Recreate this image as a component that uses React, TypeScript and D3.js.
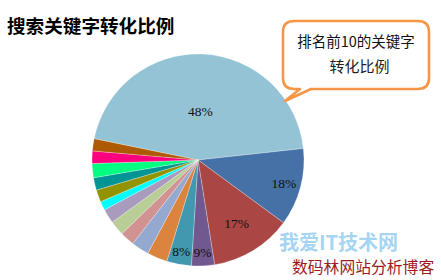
import React from "react";
import * as d3 from "d3";

// Slice values (read from the angular extent of each slice)
const values = [45.0, 11.8, 12.4, 3.5, 3.75, 3.1, 2.7, 2.2, 2.25, 2.2, 1.35, 1.85, 1.9, 2.15, 1.9, 1.85];
const labels = ["48%", "18%", "17%", "9%", "8%", "", "", "", "", "", "", "", "", "", "", ""];
const colors = [
  "#93C3D5", "#4571A7", "#AA4643", "#71588F", "#4198AF", "#DB843D", "#93A9CF", "#D19392",
  "#B9CD96", "#A99BBD", "#00FFFF", "#939300", "#009494", "#00FF80", "#FF007F", "#AE5A04",
];
const title = "搜索关键字转化比例";
const calloutLines = ["排名前10的关键字", "转化比例"];
const watermark1 = "我爱IT技术网";
const watermark2 = "数码林网站分析博客";

const W = 441;
const H = 280;
const CX = 198;
const CY = 160;
const R = 106;
const START = (-78.4 * Math.PI) / 180;
const LABEL_R = [0.46, 0.84, 0.7, 0.87, 0.88];

export default function App() {
  const pie = d3
    .pie<number>()
    .sort(null)
    .value((d) => d)
    .startAngle(START)
    .endAngle(START + 2 * Math.PI);
  const arcs = pie(values);
  const arc = d3.arc<d3.PieArcDatum<number>>().innerRadius(0).outerRadius(R);

  // callout box path
  const bx0 = 283, by0 = 21, bx1 = 429, by1 = 89, rr = 11;
  const tip = [285, 101];
  const callout = d3.path();
  callout.moveTo(bx0 + rr, by0);
  callout.lineTo(bx1 - rr, by0);
  callout.quadraticCurveTo(bx1, by0, bx1, by0 + rr);
  callout.lineTo(bx1, by1 - rr);
  callout.quadraticCurveTo(bx1, by1, bx1 - rr, by1);
  callout.lineTo(311, by1);
  callout.lineTo(tip[0], tip[1]);
  callout.lineTo(300, by1);
  callout.lineTo(bx0 + rr, by1);
  callout.quadraticCurveTo(bx0, by1, bx0, by1 - rr);
  callout.lineTo(bx0, by0 + rr);
  callout.quadraticCurveTo(bx0, by0, bx0 + rr, by0);
  callout.closePath();

  return (
    <div style={{ position: "fixed", left: 0, top: 0 }}>
      <svg width={W} height={H} style={{ display: "block", background: "#fff" }}>
        <text
          x={7}
          y={33}
          fontFamily="'Noto Sans CJK SC', sans-serif"
          fontWeight={700}
          fontSize={18.6}
          fill="#000"
        >
          {title}
        </text>

        <g transform={`translate(${CX},${CY})`}>
          {arcs.map((a, i) => (
            <path
              key={i}
              d={arc(a) || ""}
              fill={colors[i]}
              stroke="#ffffff"
              strokeOpacity={0.45}
              strokeWidth={0.6}
            />
          ))}
          {arcs.map((a, i) => {
            if (!labels[i]) return null;
            const mid = (a.startAngle + a.endAngle) / 2;
            const lr = R * (LABEL_R[i] ?? 0.85);
            const x = lr * Math.sin(mid);
            const y = -lr * Math.cos(mid);
            return (
              <text
                key={"l" + i}
                x={x}
                y={y}
                dy="0.35em"
                textAnchor="middle"
                fontFamily="'Liberation Serif', serif"
                fontSize={13.5}
                fill="#111"
              >
                {labels[i]}
              </text>
            );
          })}
        </g>

        <path d={callout.toString()} fill="#fff" stroke="#F79646" strokeWidth={2.6} strokeLinejoin="round" />
        <text
          x={356}
          y={47}
          textAnchor="middle"
          fontFamily="'Noto Sans CJK SC', sans-serif"
          fontSize={14.5}
          fill="#111"
        >
          {calloutLines[0]}
        </text>
        <text
          x={359.5}
          y={72}
          textAnchor="middle"
          fontFamily="'Noto Sans CJK SC', sans-serif"
          fontSize={15}
          fill="#222"
        >
          {calloutLines[1]}
        </text>

        <text
          x={279}
          y={250}
          fontFamily="'Noto Sans CJK SC', sans-serif"
          fontWeight={700}
          fontSize={20}
          fill="#7EC3EE"
          fillOpacity={0.7}
        >
          {watermark1}
        </text>
        <text
          x={292}
          y={273}
          fontFamily="'Noto Sans CJK SC', sans-serif"
          fontSize={15.8}
          fill="#9B1B1E"
        >
          {watermark2}
        </text>
      </svg>
    </div>
  );
}
